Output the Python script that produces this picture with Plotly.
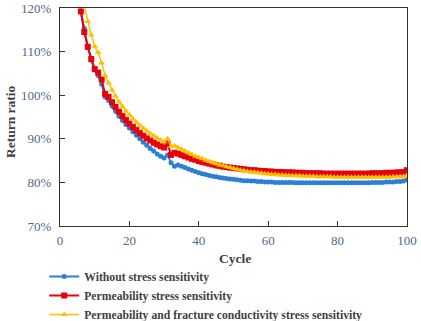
import plotly.graph_objects as go

cycles_blue = list(range(6, 101))
blue = [119.3, 115.3, 111.0, 108.0, 105.8, 104.5, 102.5, 99.6, 98.8, 97.5,
        96.3, 95.2, 94.2, 93.3, 92.5, 91.6, 90.8, 90.0, 89.2, 88.5,
        87.8, 87.2, 86.5, 86.0, 85.6, 86.3, 84.5, 83.7, 84.0, 83.7,
        83.4, 83.1, 82.8, 82.5, 82.2, 82.0, 81.8, 81.6, 81.4, 81.3,
        81.1, 81.0, 80.9, 80.8, 80.7, 80.6, 80.5, 80.4, 80.4, 80.3,
        80.3, 80.2, 80.2, 80.1, 80.1, 80.1, 80.0, 80.0, 80.0, 80.0,
        80.0, 80.0, 79.9, 79.9, 79.9, 79.9, 79.9, 79.9, 79.9, 79.9,
        79.9, 79.9, 79.9, 79.9, 79.9, 79.9, 79.9, 79.9, 79.9, 79.9,
        79.9, 79.9, 79.9, 79.9, 80.0, 80.0, 80.0, 80.0, 80.1, 80.1,
        80.1, 80.2, 80.2, 80.3, 80.6]

cycles_red = list(range(6, 101))
red = [119.2, 114.5, 111.1, 108.3, 106.0, 105.2, 103.6, 100.3, 99.6, 98.4,
       97.3, 96.2, 95.2, 94.3, 93.5, 92.7, 92.0, 91.3, 90.7, 90.1,
       89.6, 89.1, 88.7, 88.3, 88.0, 88.9, 86.3, 86.8, 86.6, 86.3,
       86.0, 85.7, 85.4, 85.2, 84.9, 84.7, 84.5, 84.3, 84.1, 83.9,
       83.8, 83.6, 83.5, 83.4, 83.3, 83.2, 83.1, 83.0, 82.9, 82.8,
       82.8, 82.7, 82.6, 82.6, 82.5, 82.5, 82.4, 82.4, 82.4, 82.3,
       82.3, 82.3, 82.2, 82.2, 82.2, 82.1, 82.1, 82.1, 82.1, 82.1,
       82.0, 82.0, 82.0, 82.0, 82.0, 82.0, 82.0, 82.0, 82.0, 82.0,
       82.0, 82.0, 82.0, 82.0, 82.1, 82.1, 82.1, 82.1, 82.2, 82.2,
       82.2, 82.3, 82.3, 82.4, 82.8]

cycles_yellow = list(range(7, 101))
yellow = [120.5, 116.9, 113.8, 111.2, 109.8, 107.4, 104.5, 102.8, 101.2, 99.8,
          98.5, 97.4, 96.4, 95.5, 94.6, 93.8, 93.1, 92.4, 91.8, 91.2,
          90.7, 90.2, 89.7, 89.3, 90.0, 88.3, 88.4, 88.0, 87.6, 87.2,
          86.8, 86.4, 86.0, 85.7, 85.4, 85.1, 84.8, 84.5, 84.3, 84.0,
          83.8, 83.6, 83.4, 83.2, 83.0, 82.8, 82.7, 82.5, 82.4, 82.3,
          82.2, 82.1, 82.0, 81.9, 81.8, 81.8, 81.7, 81.7, 81.6, 81.6,
          81.5, 81.5, 81.5, 81.4, 81.4, 81.4, 81.4, 81.3, 81.3, 81.3,
          81.3, 81.3, 81.2, 81.2, 81.2, 81.2, 81.2, 81.2, 81.2, 81.2,
          81.2, 81.2, 81.2, 81.2, 81.2, 81.2, 81.2, 81.2, 81.2, 81.3,
          81.3, 81.3, 81.3, 81.6]

names = ["Without stress sensitivity",
         "Permeability stress sensitivity",
         "Permeability and fracture conductivity stress sensitivity"]

x_title = "Cycle"
y_title = "Return ratio"

y_ticks = [70, 80, 90, 100, 110, 120]
y_ticktext = [f"{v}%" for v in y_ticks]
x_ticks = [0, 20, 40, 60, 80, 100]

fig = go.Figure()
fig.add_trace(go.Scatter(x=cycles_blue, y=blue, name=names[0], mode="lines+markers",
                         line=dict(color="#2a7fd6", width=2),
                         marker=dict(symbol="circle", size=5, color="#2a7fd6")))
fig.add_trace(go.Scatter(x=cycles_red, y=red, name=names[1], mode="lines+markers",
                         line=dict(color="#e8000b", width=2),
                         marker=dict(symbol="square", size=6, color="#e8000b")))
fig.add_trace(go.Scatter(x=cycles_yellow, y=yellow, name=names[2], mode="lines+markers",
                         line=dict(color="#ffc000", width=1.5),
                         marker=dict(symbol="triangle-up", size=6, color="#ffc000")))

tickfont = dict(family="Liberation Serif", size=13, color="#506a8c")
titlefont = dict(family="Liberation Serif", size=13.5, color="#404040", weight="bold")

fig.update_layout(
    width=421, height=321,
    margin=dict(l=60, r=14, t=8, b=95, autoexpand=False),
    paper_bgcolor="white", plot_bgcolor="white",
    showlegend=True,
    legend=dict(xref="container", yref="container", x=0.105, y=0.184,
                xanchor="left", yanchor="top",
                font=dict(family="Liberation Serif", size=11.7, color="#404040", weight="bold"),
                bgcolor="rgba(0,0,0,0)", itemwidth=30, tracegroupgap=0),
    xaxis=dict(range=[0, 100], tickvals=x_ticks, ticks="inside", ticklen=5,
               showgrid=False, zeroline=False, showline=True, linecolor="#333333",
               linewidth=1, mirror=True, tickcolor="#333333", tickfont=tickfont,
               automargin=False, ticklabelstandoff=2),
    yaxis=dict(range=[70, 120], tickvals=y_ticks, ticktext=y_ticktext, ticks="inside", ticklen=5,
               showgrid=False, zeroline=False, showline=True, linecolor="#333333",
               linewidth=1, mirror=True, tickcolor="#333333", tickfont=tickfont,
               automargin=False, ticklabelstandoff=5),
    annotations=[
        dict(text=x_title, xref="paper", yref="paper", x=0.504, y=-0.147,
             xanchor="center", yanchor="middle", showarrow=False, font=titlefont),
        dict(text=y_title, xref="paper", yref="paper", x=-0.144, y=0.477,
             xanchor="center", yanchor="middle", textangle=-90, showarrow=False, font=titlefont),
    ],
)

fig.write_html("out.html", config={"displayModeBar": False},
               post_script="document.body.style.margin='0';")
